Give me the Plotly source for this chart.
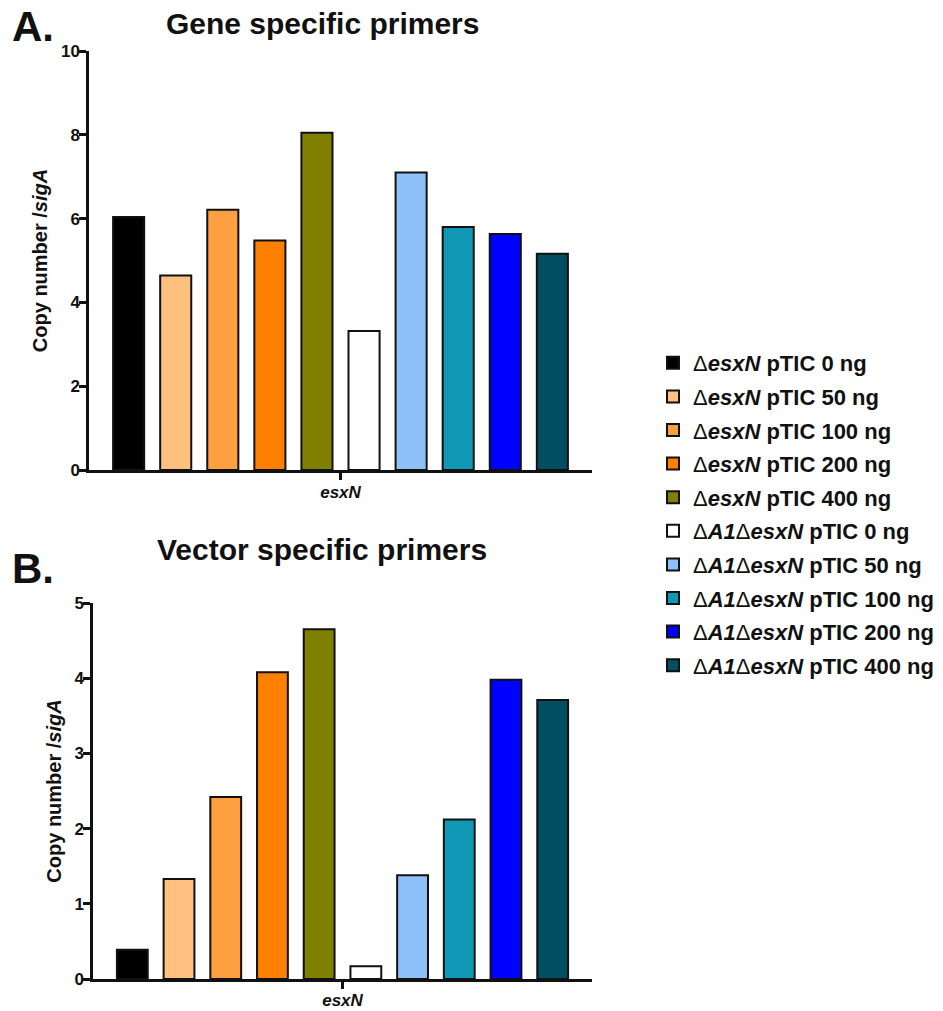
import plotly.graph_objects as go

# ---- data ----
category = ["esxN"]
series_names = [
    "Δ<i>esxN</i> pTIC 0 ng",
    "Δ<i>esxN</i> pTIC 50 ng",
    "Δ<i>esxN</i> pTIC 100 ng",
    "Δ<i>esxN</i> pTIC 200 ng",
    "Δ<i>esxN</i> pTIC 400 ng",
    "Δ<i>A1</i>Δ<i>esxN</i> pTIC 0 ng",
    "Δ<i>A1</i>Δ<i>esxN</i> pTIC 50 ng",
    "Δ<i>A1</i>Δ<i>esxN</i> pTIC 100 ng",
    "Δ<i>A1</i>Δ<i>esxN</i> pTIC 200 ng",
    "Δ<i>A1</i>Δ<i>esxN</i> pTIC 400 ng",
]
gene_values = [6.04, 4.64, 6.21, 5.48, 8.05, 3.32, 7.1, 5.8, 5.63, 5.16]
vector_values = [0.39, 1.33, 2.42, 4.08, 4.65, 0.17, 1.38, 2.12, 3.98, 3.71]
colors = ["#000000", "#FFC080", "#FFA040", "#FF8000", "#808000",
          "#FFFFFF", "#90C0F8", "#1098B4", "#0000FF", "#004F60"]
y_ticks_A = [0, 2, 4, 6, 8, 10]
y_ticks_B = [0, 1, 2, 3, 4, 5]

FONT = "Arial, Liberation Sans, Helvetica, sans-serif"
W, H = 943, 1011

fig = go.Figure()
for name, g, v, c in zip(series_names, gene_values, vector_values, colors):
    label = name.replace("Δ", "<span style='font-weight:normal'>Δ</span>")
    fig.add_trace(go.Bar(x=category, y=[g], name=label, marker=dict(color=c, line=dict(color="#111", width=2)),
                         xaxis="x", yaxis="y", legendgroup=name, showlegend=True))
    fig.add_trace(go.Bar(x=category, y=[v], name=label, marker=dict(color=c, line=dict(color="#111", width=2)),
                         xaxis="x2", yaxis="y2", legendgroup=name, showlegend=False))

def px_dom_x(a, b):
    return [a / W, b / W]

def px_dom_y(top, bottom):
    return [1 - bottom / H, 1 - top / H]

axis_line = dict(showline=True, linecolor="#111", linewidth=2.5, ticks="outside",
                 tickcolor="#111", tickwidth=2.5, ticklen=7, showgrid=False, zeroline=False,
                 automargin=False,
                 tickfont=dict(family=FONT, size=17, color="#111", weight="bold"))

ytitle = dict(text="<b>Copy number /<i>sigA</i></b>", font=dict(family=FONT, size=20), standoff=8)

fig.update_layout(
    width=W, height=H,
    margin=dict(l=0, r=0, t=0, b=0, autoexpand=False),
    paper_bgcolor="white", plot_bgcolor="white",
    barmode="group", bargap=0.064, bargroupgap=0.34,
    font=dict(family=FONT, color="#111"),
    xaxis=dict(domain=px_dom_x(89, 592), anchor="y", type="category",
               tickvals=category, ticktext=["<b><i>esxN</i></b>"], ticklabelstandoff=-2, **axis_line),
    yaxis=dict(domain=px_dom_y(51, 470), anchor="x", range=[0, 10], tickvals=y_ticks_A,
               title=ytitle, ticklabelstandoff=-4, **axis_line),
    xaxis2=dict(domain=px_dom_x(93, 592), anchor="y2", type="category",
                tickvals=category, ticktext=["<b><i>esxN</i></b>"], ticklabelstandoff=-3, **axis_line),
    yaxis2=dict(domain=px_dom_y(603, 979), anchor="x2", range=[0, 5], tickvals=y_ticks_B,
                title=ytitle, ticklabelstandoff=-4, **axis_line),
    legend=dict(x=653 / W, y=1 - 342 / H, xanchor="left", yanchor="top",
                font=dict(family=FONT, size=22, color="#111", weight="bold"),
                traceorder="grouped", itemwidth=30, tracegroupgap=2),
    showlegend=True,
)

def label(text, xpx, ypx, size, anchor):
    fig.add_annotation(text=text, x=xpx / W, y=1 - ypx / H, xref="paper", yref="paper",
                       xanchor=anchor, yanchor="middle", showarrow=False,
                       font=dict(family=FONT, size=size, color="#111"))

label("<b>A.</b>", 10, 26, 42, "left")
label("<b>B.</b>", 10, 568, 42, "left")
label("<b>Gene specific primers</b>", 322, 23, 30, "center")
label("<b>Vector specific primers</b>", 322, 549, 30, "center")

fig.write_html("out.html")
